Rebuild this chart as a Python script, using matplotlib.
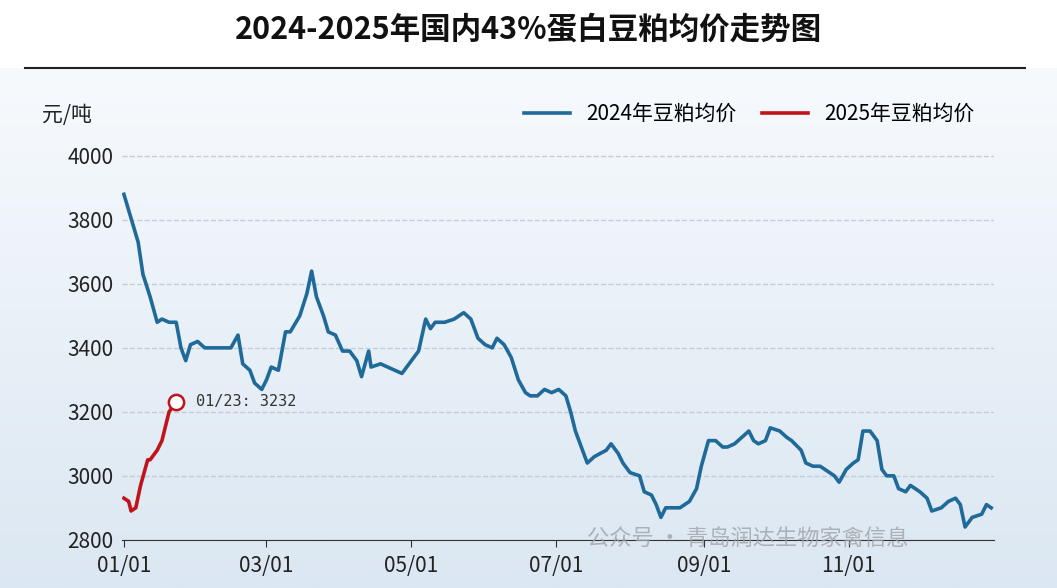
import matplotlib
matplotlib.use("Agg")
import matplotlib.pyplot as plt
import matplotlib.dates as mdates
import numpy as np
import pandas as pd

plt.rcParams['font.family'] = ['Noto Sans CJK SC', 'DejaVu Sans']

# 2024 series: day offset from 01/01 and price (元/吨)
days_2024 = [0, 2, 6, 8, 11, 14, 16, 19, 22, 24, 26, 28, 31, 34, 40, 45, 48, 50, 53, 55,
             58, 60, 62, 65, 68, 70, 74, 77, 79, 81, 84, 86, 89, 92, 95, 98, 100, 103, 104,
             108, 111, 114, 117, 120, 124, 127, 129, 131, 135, 139, 143, 146, 149, 152, 155,
             157, 160, 163, 166, 169, 171, 174, 177, 180, 183, 186, 188, 190, 193, 195, 198,
             203, 205, 208, 210, 213, 217, 219, 222, 224, 226, 228, 231, 234, 238, 241, 243,
             246, 249, 252, 254, 257, 260, 263, 265, 267, 270, 272, 276, 279, 281, 285, 287,
             290, 293, 297, 299, 301, 304, 307, 309, 311, 314, 317, 319, 321, 324, 326, 329,
             331, 335, 338, 340, 344, 347, 350, 352, 354, 357, 361, 363, 365]
price_2024 = [3880, 3830, 3730, 3630, 3560, 3480, 3490, 3480, 3480, 3400, 3360, 3410, 3420,
              3400, 3400, 3400, 3440, 3350, 3330, 3290, 3270, 3300, 3340, 3330, 3450, 3450,
              3500, 3570, 3640, 3560, 3500, 3450, 3440, 3390, 3390, 3360, 3310, 3390, 3340,
              3350, 3340, 3330, 3320, 3350, 3390, 3490, 3460, 3480, 3480, 3490, 3510, 3490,
              3430, 3410, 3400, 3430, 3410, 3370, 3300, 3260, 3250, 3250, 3270, 3260, 3270,
              3250, 3200, 3140, 3080, 3040, 3060, 3080, 3100, 3070, 3040, 3010, 3000, 2950,
              2940, 2910, 2870, 2900, 2900, 2900, 2920, 2960, 3030, 3110, 3110, 3090, 3090,
              3100, 3120, 3140, 3110, 3100, 3110, 3150, 3140, 3120, 3110, 3080, 3040, 3030,
              3030, 3010, 3000, 2980, 3020, 3040, 3050, 3140, 3140, 3110, 3020, 3000, 3000,
              2960, 2950, 2970, 2950, 2930, 2890, 2900, 2920, 2930, 2910, 2840, 2870, 2880,
              2910, 2900]
# 2025 series up to 01/23
days_2025 = [0, 2, 3, 5, 7, 10, 11, 14, 16, 19, 22]
price_2025 = [2930, 2920, 2890, 2900, 2970, 3050, 3050, 3080, 3110, 3200, 3232]

base = pd.Timestamp("2024-01-01")
d24 = base + pd.to_timedelta(days_2024, unit="D")
d25 = base + pd.to_timedelta(days_2025, unit="D")

fig = plt.figure(figsize=(10.57, 5.88), dpi=100)
fig.patch.set_facecolor("white")

# light blue gradient background below the title
bg = fig.add_axes([0, 0, 1, 0.885])
grad = np.linspace(0, 1, 256).reshape(-1, 1)
bg.imshow(grad, aspect="auto", cmap=matplotlib.colors.LinearSegmentedColormap.from_list(
    "g", ["#dbe7f2", "#f7fafd"]), origin="lower", extent=[0, 1, 0, 1])
bg.axis("off")

fig.text(0.5, 0.95, "2024-2025年国内43%蛋白豆粕均价走势图", ha="center", va="center",
         fontsize=22, fontweight="bold", color="#111111")
fig.add_artist(plt.Line2D([0.024, 0.97], [0.884, 0.884], color="#222222", lw=1.5))

ax = fig.add_axes([0.115, 0.082, 0.825, 0.68])
ax.set_facecolor("none")
ax.plot(d24, price_2024, color="#1f6a98", lw=2.6, label="2024年豆粕均价")
ax.plot(d25, price_2025, color="#c0141c", lw=2.6, label="2025年豆粕均价")
ax.plot(d25[-1], price_2025[-1], "o", ms=11, mfc="white", mec="#c0141c", mew=1.8)
ax.annotate(f"01/23: {price_2025[-1]}", (d25[-1], price_2025[-1]), xytext=(14, 0),
            textcoords="offset points", va="center", fontsize=11, color="#333333",
            family=["DejaVu Sans Mono"])

ax.set_ylim(2800, 4050)
ax.set_yticks(range(2800, 4001, 200))
ax.set_xlim(base - pd.Timedelta(days=1), base + pd.Timedelta(days=366))
ax.set_xticks([pd.Timestamp(s) for s in ["2024-01-01", "2024-03-01", "2024-05-01",
                                         "2024-07-01", "2024-09-01", "2024-11-01"]])
ax.xaxis.set_major_formatter(mdates.DateFormatter("%m/%d"))
ax.grid(axis="y", ls="--", color="#c4ccd6", lw=1)
for s in ["top", "right", "left"]:
    ax.spines[s].set_visible(False)
ax.spines["bottom"].set_color("#333333")
ax.tick_params(axis="both", labelsize=15, length=0, colors="#222222", pad=6)
ax.tick_params(axis="x", length=5, color="#333333")

fig.text(0.04, 0.805, "元/吨", fontsize=15, color="#222222", va="center")
ax.legend(loc="lower right", bbox_to_anchor=(1.0, 0.99), ncol=2, frameon=False,
          fontsize=15, handlelength=2.2, columnspacing=1.2)

fig.text(0.555, 0.085, "公众号 · 青岛润达生物家禽信息", fontsize=16, color="#a0a4a8",
         alpha=0.8, va="center")

fig.savefig("out.png", dpi=100)
